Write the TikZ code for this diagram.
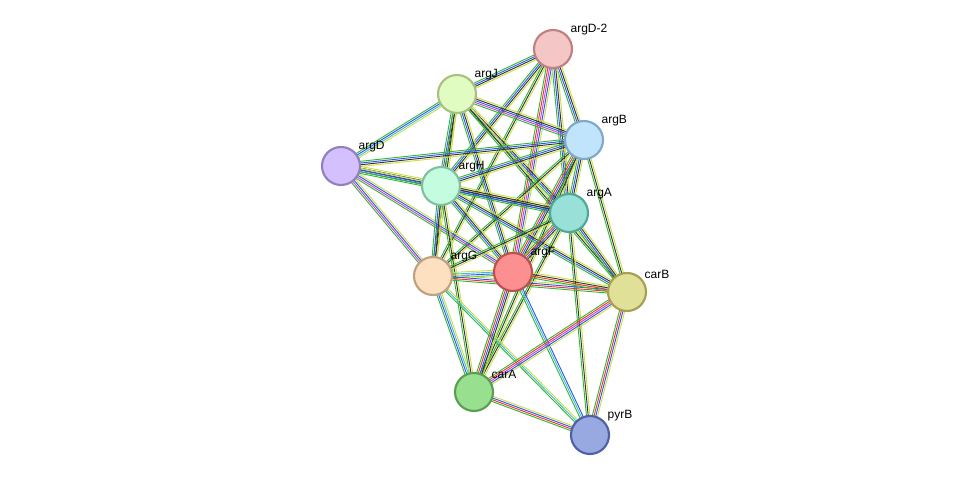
\documentclass[tikz,border=0pt]{standalone}
\usepackage{fontspec}
\setmainfont{Liberation Sans}
\usetikzlibrary{calc}
\definecolor{gA}{HTML}{33B833}
\definecolor{bl}{HTML}{3355EE}
\definecolor{bk}{HTML}{333333}
\definecolor{yg}{HTML}{C8E040}
\definecolor{rd}{HTML}{EE3333}
\definecolor{mg}{HTML}{CC44CC}
\definecolor{cy}{HTML}{44BBDD}
\newcommand{\E}[4]{%
  \foreach \c [count=\i] in {#4}{%
    \pgfmathsetmacro\o{(\i-(#3+1)/2)*1.3}
    \draw[\c,line width=0.7pt] ($(#1)!\o pt!90:(#2)$) -- ($(#2)!\o pt!-90:(#1)$);
  }}
\tikzset{prot/.style={circle,minimum size=28.5pt,inner sep=0pt,line width=1.6pt},
  lab/.style={font=\fontsize{9}{10}\selectfont,anchor=south west,inner sep=1pt}}
\begin{document}
\begin{tikzpicture}[x=0.75pt,y=-0.75pt]
\useasboundingbox (0,0) rectangle (975,481);
\coordinate (d2) at (553,49);
\coordinate (j) at (457,94);
\coordinate (b) at (584,140);
\coordinate (d) at (341,166);
\coordinate (h) at (441,186);
\coordinate (a) at (569,213);
\coordinate (g) at (433,276);
\coordinate (f) at (513,272);
\coordinate (cb) at (627,292);
\coordinate (ca) at (474,392);
\coordinate (p) at (590,435);
\E{d2}{j}{4}{gA,bl,bk,yg}
\E{d2}{b}{4}{gA,bl,bk,yg}
\E{d2}{h}{4}{gA,bl,bk,yg}
\E{d2}{a}{4}{gA,bl,bk,yg}
\E{d2}{g}{3}{gA,bk,yg}
\E{d2}{f}{5}{gA,rd,mg,bl,yg}
\E{j}{b}{5}{gA,mg,bl,bk,yg}
\E{j}{d}{4}{gA,bl,cy,yg}
\E{j}{h}{4}{gA,bl,bk,yg}
\E{j}{a}{4}{gA,bl,bk,yg}
\E{j}{g}{3}{gA,bk,yg}
\E{j}{f}{4}{gA,bl,bk,yg}
\E{j}{cb}{3}{gA,bk,yg}
\E{b}{d}{4}{gA,bl,bk,yg}
\E{b}{h}{4}{gA,bl,bk,yg}
\E{b}{a}{4}{gA,bl,bk,yg}
\E{b}{g}{3}{gA,bk,yg}
\E{b}{f}{5}{gA,rd,bl,bk,yg}
\E{b}{cb}{3}{gA,bk,yg}
\E{b}{ca}{3}{gA,bk,yg}
\E{d}{h}{5}{gA,bl,bk,bk,yg}
\E{d}{g}{4}{gA,mg,bl,yg}
\E{d}{f}{4}{gA,mg,bl,yg}
\E{d}{a}{3}{gA,bl,yg}
\E{h}{a}{5}{gA,bl,bk,bk,yg}
\E{h}{g}{4}{gA,bl,bk,yg}
\E{h}{f}{4}{gA,bl,bk,yg}
\E{h}{cb}{4}{gA,bl,bk,yg}
\E{h}{ca}{3}{gA,bk,yg}
\E{a}{g}{3}{gA,bk,yg}
\E{a}{f}{5}{gA,rd,bl,bk,yg}
\E{a}{cb}{4}{gA,bl,bk,yg}
\E{a}{ca}{3}{gA,bk,yg}
\E{a}{p}{3}{gA,bk,yg}
\E{g}{f}{4}{gA,bl,cy,yg}
\E{g}{cb}{4}{gA,rd,bl,yg}
\E{g}{ca}{4}{gA,bl,cy,yg}
\E{g}{p}{3}{gA,cy,yg}
\E{f}{cb}{4}{gA,rd,bk,yg}
\E{f}{ca}{5}{gA,rd,bl,bk,yg}
\E{f}{p}{3}{gA,cy,bl}
\E{cb}{ca}{5}{gA,rd,mg,bl,yg}
\E{cb}{p}{4}{gA,rd,bl,yg}
\E{ca}{p}{4}{gA,rd,bl,yg}
\node[prot,fill={rgb,255:red,245;green,198;blue,198},draw={rgb,255:red,192;green,128;blue,128}] (nd2) at (d2) {};
\node[prot,fill={rgb,255:red,224;green,252;blue,192},draw={rgb,255:red,168;green,192;blue,128}] (nj) at (j) {};
\node[prot,fill={rgb,255:red,192;green,228;blue,252},draw={rgb,255:red,128;green,168;blue,200}] (nb) at (b) {};
\node[prot,fill={rgb,255:red,212;green,192;blue,252},draw={rgb,255:red,144;green,128;blue,192}] (nd) at (d) {};
\node[prot,fill={rgb,255:red,196;green,252;blue,224},draw={rgb,255:red,128;green,192;blue,160}] (nh) at (h) {};
\node[prot,fill={rgb,255:red,152;green,224;blue,216},draw={rgb,255:red,80;green,168;blue,152}] (na) at (a) {};
\node[prot,fill={rgb,255:red,252;green,224;blue,192},draw={rgb,255:red,192;green,160;blue,128}] (ng) at (g) {};
\node[prot,fill={rgb,255:red,252;green,144;blue,144},draw={rgb,255:red,192;green,80;blue,80}] (nf) at (f) {};
\node[prot,fill={rgb,255:red,224;green,224;blue,152},draw={rgb,255:red,168;green,160;blue,80}] (ncb) at (cb) {};
\node[prot,fill={rgb,255:red,152;green,224;blue,144},draw={rgb,255:red,88;green,160;blue,80}] (nca) at (ca) {};
\node[prot,fill={rgb,255:red,152;green,168;blue,224},draw={rgb,255:red,80;green,96;blue,168}] (np) at (p) {};
\node[lab] at ($(d2)+(16,-12)$) {argD-2};
\node[lab] at ($(j)+(16,-12)$) {argJ};
\node[lab] at ($(b)+(16,-12)$) {argB};
\node[lab] at ($(d)+(16,-12)$) {argD};
\node[lab] at ($(h)+(16,-12)$) {argH};
\node[lab] at ($(a)+(16,-12)$) {argA};
\node[lab] at ($(g)+(16,-12)$) {argG};
\node[lab] at ($(f)+(16,-12)$) {argF};
\node[lab] at ($(cb)+(16,-12)$) {carB};
\node[lab] at ($(ca)+(16,-12)$) {carA};
\node[lab] at ($(p)+(16,-12)$) {pyrB};
\end{tikzpicture}
\end{document}
